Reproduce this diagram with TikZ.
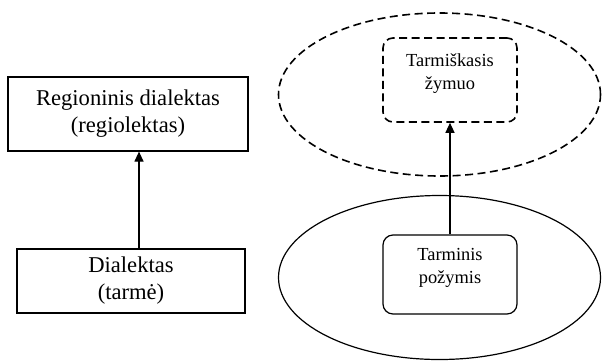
\documentclass[tikz,border=0pt]{standalone}
\usepackage{fontspec}
\setmainfont{Liberation Serif}
\usetikzlibrary{shapes.geometric,arrows.meta}
\begin{document}
\begin{tikzpicture}[x=1pt,y=-1pt,
  sqbox/.style={draw, line width=1.2pt, rectangle, inner sep=0pt},
  bigtxt/.style={align=center, font=\fontsize{22.6}{27}\selectfont},
  smalltxt/.style={align=center, font=\fontsize{18.4}{23}\selectfont},
  rbox/.style={draw, line width=1.2pt, rectangle, rounded corners=10pt, minimum width=134pt, inner sep=0pt},
  dashline/.style={dash pattern=on 8pt off 4.5pt, line width=1.6pt},
  arr/.style={line width=1.2pt, -{Triangle[length=10pt,width=9pt]}}]
\useasboundingbox (0,0) rectangle (602,362);
% left
\node[sqbox, bigtxt, minimum width=240pt, minimum height=74pt] (b1) at (128,114) {Regioninis dialektas\\(regiolektas)};
\node[sqbox, bigtxt, minimum width=228pt, minimum height=64pt] (b2) at (131,281) {Dialektas\\(tarmė)};
\coordinate (a1) at (139,0);
\draw[arr] (b2.north -| a1) -- (b1.south -| a1);
% right
\node[draw, ellipse, dashline, minimum width=322pt, minimum height=163pt, inner sep=0pt] (e1) at (439.5,94.5) {};
\node[draw, ellipse, line width=1.2pt, minimum width=322pt, minimum height=164pt, inner sep=0pt] (e2) at (439.5,277.5) {};
\node[rbox, dashline, minimum height=84pt] (zb) at (450,80) {};
\node[smalltxt] (zt) at (450,73.5) {Tarmiškasis\\žymuo};
\node[rbox, minimum height=79pt] (tb) at (450,274.5) {};
\node[smalltxt] (tt) at (450,268) {Tarminis\\požymis};
\draw[arr] (tb.north) -- (zb.south);
\end{tikzpicture}
\end{document}
